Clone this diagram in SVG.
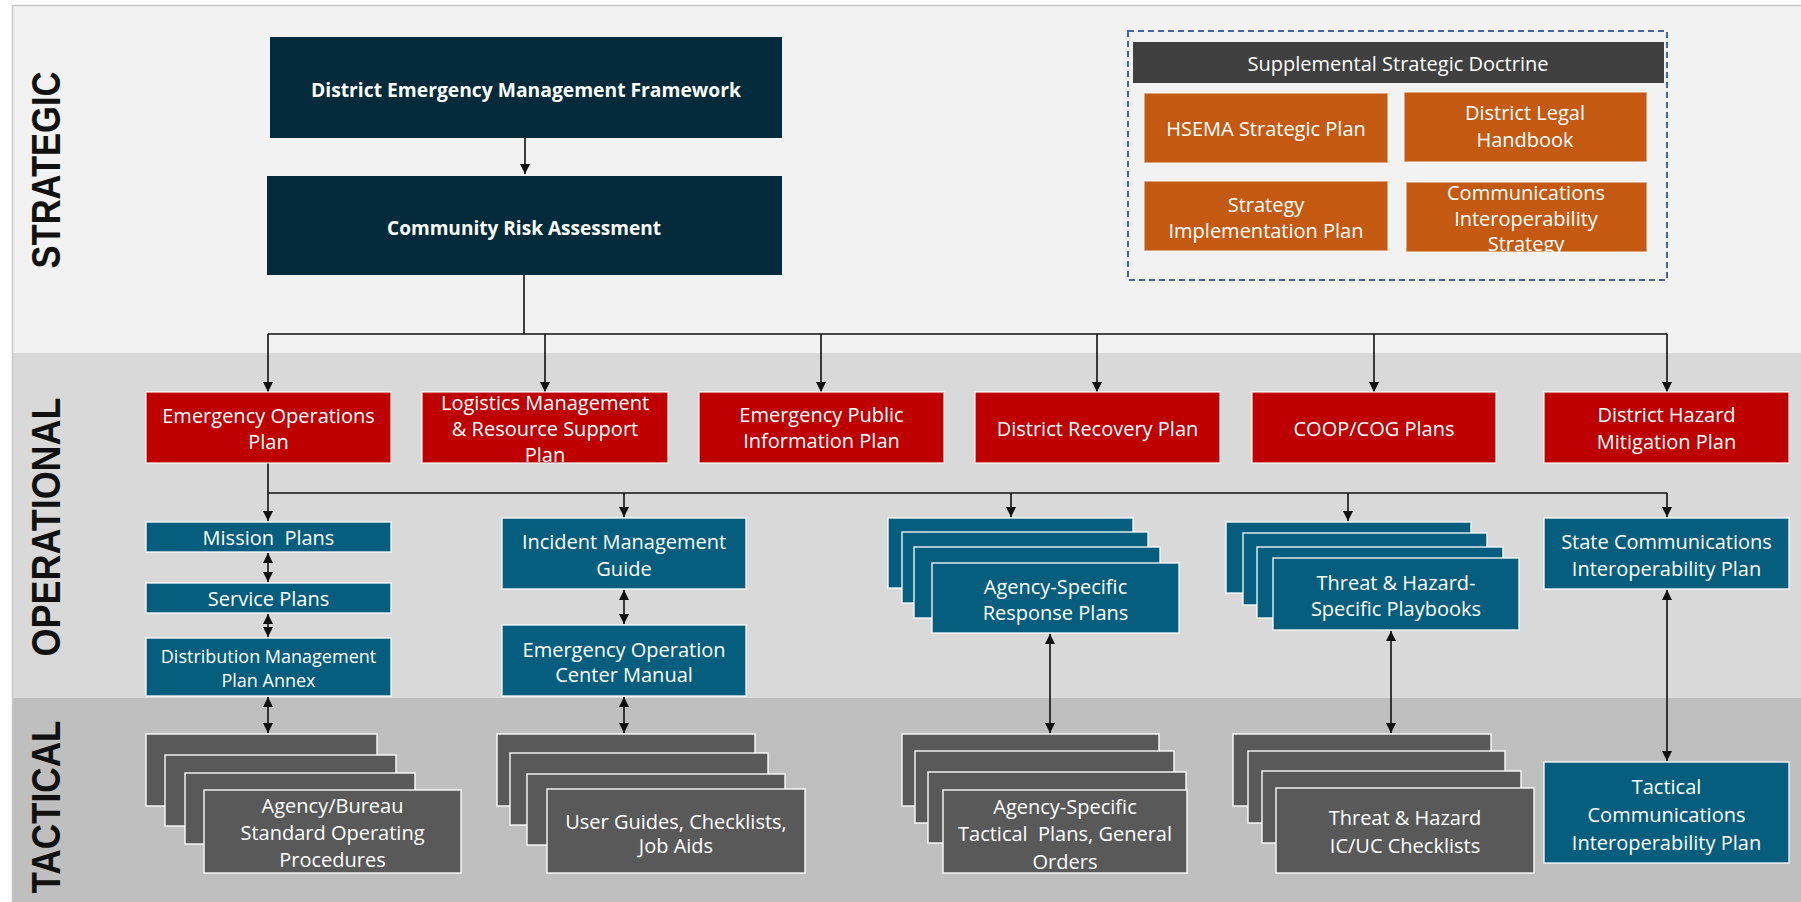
<svg xmlns="http://www.w3.org/2000/svg" width="1801" height="902" viewBox="0 0 1801 902">
  <style>
    .band-s { fill:#f2f2f2; }
    .band-o { fill:#d9d9d9; }
    .band-t { fill:#bfbfbf; }
    .navy { fill:#032b3b; }
    .red { fill:#be0000; stroke:#ffffff; stroke-opacity:0.75; stroke-width:1.5; }
    .blue { fill:#055e7e; stroke:#ffffff; stroke-opacity:0.85; stroke-width:1.5; }
    .grey { fill:#595959; stroke:#ffffff; stroke-opacity:0.9; stroke-width:1.5; }
    .orange { fill:#c45a12; stroke:#ffffff; stroke-opacity:0.6; stroke-width:1.5; }
    .hdr { fill:#404040; }
    .t { font-family:"Open Sans","DejaVu Sans",sans-serif; font-size:20px; fill:#ffffff; text-anchor:middle; white-space:pre; }
    .ts { font-size:18px; }
    .tb { font-family:"Open Sans","Liberation Sans",sans-serif; font-size:20px; font-weight:bold; fill:#ffffff; text-anchor:middle; }
    .lvl { font-family:"Liberation Sans","DejaVu Sans",sans-serif; font-size:40px; font-weight:bold; fill:#111111; text-anchor:middle; }
    .ln { fill:none; stroke:#111111; stroke-width:1.6; }
    .arr { marker-end:url(#ah); }
    .dbl { marker-start:url(#ah); marker-end:url(#ah); }
  </style>
  <defs>
    <marker id="ah" viewBox="0 0 10 10" refX="10" refY="5" markerWidth="10" markerHeight="10" markerUnits="userSpaceOnUse" orient="auto-start-reverse">
      <path d="M0,0 L10,5 L0,10 z" fill="#111111"/>
    </marker>
  </defs>

  <!-- background bands -->
  <rect x="0" y="0" width="1801" height="902" fill="#ffffff"/>
  <rect class="band-s" x="12" y="5" width="1789" height="348"/>
  <rect class="band-o" x="12" y="353" width="1789" height="345"/>
  <rect class="band-t" x="12" y="698" width="1789" height="204"/>
  <path d="M12.5,902 V5.5 H1801" fill="none" stroke="#c8c8c8" stroke-width="1.5"/>

  <!-- tier labels -->
  <text class="lvl" transform="translate(60,170) rotate(-90)" textLength="197" lengthAdjust="spacingAndGlyphs">STRATEGIC</text>
  <text class="lvl" transform="translate(60,527) rotate(-90)" textLength="259" lengthAdjust="spacingAndGlyphs">OPERATIONAL</text>
  <text class="lvl" transform="translate(60,807) rotate(-90)" textLength="173" lengthAdjust="spacingAndGlyphs">TACTICAL</text>

  <!-- connectors -->
  <g id="connectors">
    <path class="ln arr" d="M525,138 V174"/>
    <path class="ln" stroke-width="2" d="M524,275 V334 M268,334 H1667"/>
    <path class="ln arr" d="M268,334 V392"/>
    <path class="ln arr" d="M545,334 V392"/>
    <path class="ln arr" d="M821,334 V392"/>
    <path class="ln arr" d="M1097,334 V392"/>
    <path class="ln arr" d="M1374,334 V392"/>
    <path class="ln arr" d="M1667,334 V392"/>
    <path class="ln arr" d="M268,463 V521"/>
    <path class="ln" stroke-width="3" d="M268,493 H1348"/>
    <path class="ln" stroke-width="1.8" d="M1348,493 H1667"/>
    <path class="ln arr" d="M624,493 V517"/>
    <path class="ln arr" d="M1011,493 V517"/>
    <path class="ln arr" d="M1348,493 V521"/>
    <path class="ln arr" d="M1667,493 V517"/>
    <path class="ln dbl" d="M268,553 V582"/>
    <path class="ln dbl" d="M268,614 V637"/>
    <path class="ln dbl" d="M268,697 V733"/>
    <path class="ln dbl" d="M624,590 V624"/>
    <path class="ln dbl" d="M624,697 V733"/>
    <path class="ln dbl" d="M1050,634 V733"/>
    <path class="ln dbl" d="M1391,631 V733"/>
    <path class="ln dbl" d="M1667,590 V761"/>
  </g>

  <!-- strategic -->
  <g id="framework">
    <rect class="navy" x="270" y="37" width="512" height="101"/>
    <text class="tb" x="526" y="97" textLength="430" lengthAdjust="spacingAndGlyphs">District Emergency Management Framework</text>
  </g>
  <g id="risk-assessment">
    <rect class="navy" x="267" y="176" width="515" height="99"/>
    <text class="tb" x="524" y="235" textLength="274" lengthAdjust="spacingAndGlyphs">Community Risk Assessment</text>
  </g>

  <g id="supplemental">
    <rect x="1128" y="31" width="539" height="249" fill="none" stroke="#44659c" stroke-width="2" stroke-dasharray="6 4"/>
    <rect class="hdr" x="1133" y="42" width="531" height="41"/>
    <text class="t" x="1398" y="71">Supplemental Strategic Doctrine</text>
  </g>
  <g id="hsema-plan">
    <rect class="orange" x="1144" y="93" width="244" height="70"/>
    <text class="t" x="1266" y="136">HSEMA Strategic Plan</text>
  </g>
  <g id="legal-handbook">
    <rect class="orange" x="1404" y="92" width="243" height="70"/>
    <text class="t" x="1525" y="120">District Legal</text>
    <text class="t" x="1525" y="147">Handbook</text>
  </g>
  <g id="strategy-impl">
    <rect class="orange" x="1144" y="181" width="244" height="70"/>
    <text class="t" x="1266" y="212">Strategy</text>
    <text class="t" x="1266" y="238">Implementation Plan</text>
  </g>
  <g id="comms-strategy">
    <rect class="orange" x="1406" y="182" width="241" height="70"/>
    <text class="t" x="1526" y="200">Communications</text>
    <text class="t" x="1526" y="226">Interoperability</text>
    <text class="t" x="1526" y="251">Strategy</text>
  </g>

  <!-- operational plans -->
  <g id="eop">
    <rect class="red" x="146" y="392" width="245" height="71"/>
    <text class="t" x="268.5" y="423">Emergency Operations</text>
    <text class="t" x="268.5" y="449">Plan</text>
  </g>
  <g id="logistics">
    <rect class="red" x="422" y="392" width="246" height="71"/>
    <text class="t" x="545" y="410">Logistics Management</text>
    <text class="t" x="545" y="436">&amp; Resource Support</text>
    <text class="t" x="545" y="462">Plan</text>
  </g>
  <g id="public-info">
    <rect class="red" x="699" y="392" width="245" height="71"/>
    <text class="t" x="821.5" y="422">Emergency Public</text>
    <text class="t" x="821.5" y="448">Information Plan</text>
  </g>
  <g id="recovery">
    <rect class="red" x="975" y="392" width="245" height="71"/>
    <text class="t" x="1097.5" y="436">District Recovery Plan</text>
  </g>
  <g id="coop-cog">
    <rect class="red" x="1252" y="392" width="244" height="71"/>
    <text class="t" x="1374" y="436">COOP/COG Plans</text>
  </g>
  <g id="hazard-mitigation">
    <rect class="red" x="1544" y="392" width="245" height="71"/>
    <text class="t" x="1666.5" y="422">District Hazard</text>
    <text class="t" x="1666.5" y="449">Mitigation Plan</text>
  </g>

  <g id="mission-plans">
    <rect class="blue" x="146" y="522" width="245" height="30"/>
    <text class="t" x="268.5" y="545">Mission  Plans</text>
  </g>
  <g id="service-plans">
    <rect class="blue" x="146" y="583" width="245" height="30"/>
    <text class="t" x="268.5" y="606">Service Plans</text>
  </g>
  <g id="distribution-annex">
    <rect class="blue" x="146" y="638" width="245" height="58"/>
    <text class="t ts" x="268.5" y="663">Distribution Management</text>
    <text class="t ts" x="268.5" y="687">Plan Annex</text>
  </g>
  <g id="incident-guide">
    <rect class="blue" x="502" y="518" width="244" height="71"/>
    <text class="t" x="624" y="549">Incident Management</text>
    <text class="t" x="624" y="576">Guide</text>
  </g>
  <g id="eoc-manual">
    <rect class="blue" x="502" y="625" width="244" height="71"/>
    <text class="t" x="624" y="657">Emergency Operation</text>
    <text class="t" x="624" y="682">Center Manual</text>
  </g>
  <g id="agency-response">
    <rect class="blue" x="888" y="518" width="245" height="70"/>
    <rect class="blue" x="902" y="532" width="246" height="71"/>
    <rect class="blue" x="914" y="547" width="246" height="71"/>
    <rect class="blue" x="932" y="563" width="247" height="70"/>
    <text class="t" x="1055.5" y="594">Agency-Specific</text>
    <text class="t" x="1055.5" y="620">Response Plans</text>
  </g>
  <g id="hazard-playbooks">
    <rect class="blue" x="1226" y="522" width="245" height="71"/>
    <rect class="blue" x="1243" y="533" width="244" height="72"/>
    <rect class="blue" x="1257" y="547" width="246" height="71"/>
    <rect class="blue" x="1273" y="558" width="246" height="72"/>
    <text class="t" x="1396" y="590">Threat &amp; Hazard-</text>
    <text class="t" x="1396" y="616">Specific Playbooks</text>
  </g>
  <g id="state-comms">
    <rect class="blue" x="1544" y="518" width="245" height="71"/>
    <text class="t" x="1666.5" y="549">State Communications</text>
    <text class="t" x="1666.5" y="576">Interoperability Plan</text>
  </g>

  <!-- tactical -->
  <g id="agency-sops">
    <rect class="grey" x="146" y="734" width="231" height="72"/>
    <rect class="grey" x="165" y="755" width="231" height="71"/>
    <rect class="grey" x="185" y="773" width="230" height="71"/>
    <rect class="grey" x="204" y="790" width="257" height="83"/>
    <text class="t" x="332.5" y="813">Agency/Bureau</text>
    <text class="t" x="332.5" y="840">Standard Operating</text>
    <text class="t" x="332.5" y="867">Procedures</text>
  </g>
  <g id="user-guides">
    <rect class="grey" x="497" y="734" width="258" height="72"/>
    <rect class="grey" x="510" y="753" width="258" height="72"/>
    <rect class="grey" x="527" y="774" width="258" height="71"/>
    <rect class="grey" x="547" y="789" width="258" height="84"/>
    <text class="t" x="676" y="829">User Guides, Checklists,</text>
    <text class="t" x="676" y="853">Job Aids</text>
  </g>
  <g id="agency-tactical">
    <rect class="grey" x="902" y="734" width="257" height="72"/>
    <rect class="grey" x="915" y="751" width="259" height="72"/>
    <rect class="grey" x="928" y="772" width="258" height="71"/>
    <rect class="grey" x="943" y="790" width="244" height="83"/>
    <text class="t" x="1065" y="814">Agency-Specific</text>
    <text class="t" x="1065" y="841">Tactical  Plans, General</text>
    <text class="t" x="1065" y="869">Orders</text>
  </g>
  <g id="hazard-checklists">
    <rect class="grey" x="1233" y="734" width="258" height="72"/>
    <rect class="grey" x="1248" y="751" width="257" height="72"/>
    <rect class="grey" x="1262" y="771" width="259" height="72"/>
    <rect class="grey" x="1276" y="788" width="258" height="85"/>
    <text class="t" x="1405" y="825">Threat &amp; Hazard</text>
    <text class="t" x="1405" y="853">IC/UC Checklists</text>
  </g>
  <g id="tactical-comms">
    <rect class="blue" x="1544" y="762" width="245" height="101"/>
    <text class="t" x="1666.5" y="794">Tactical</text>
    <text class="t" x="1666.5" y="822">Communications</text>
    <text class="t" x="1666.5" y="850">Interoperability Plan</text>
  </g>
</svg>
